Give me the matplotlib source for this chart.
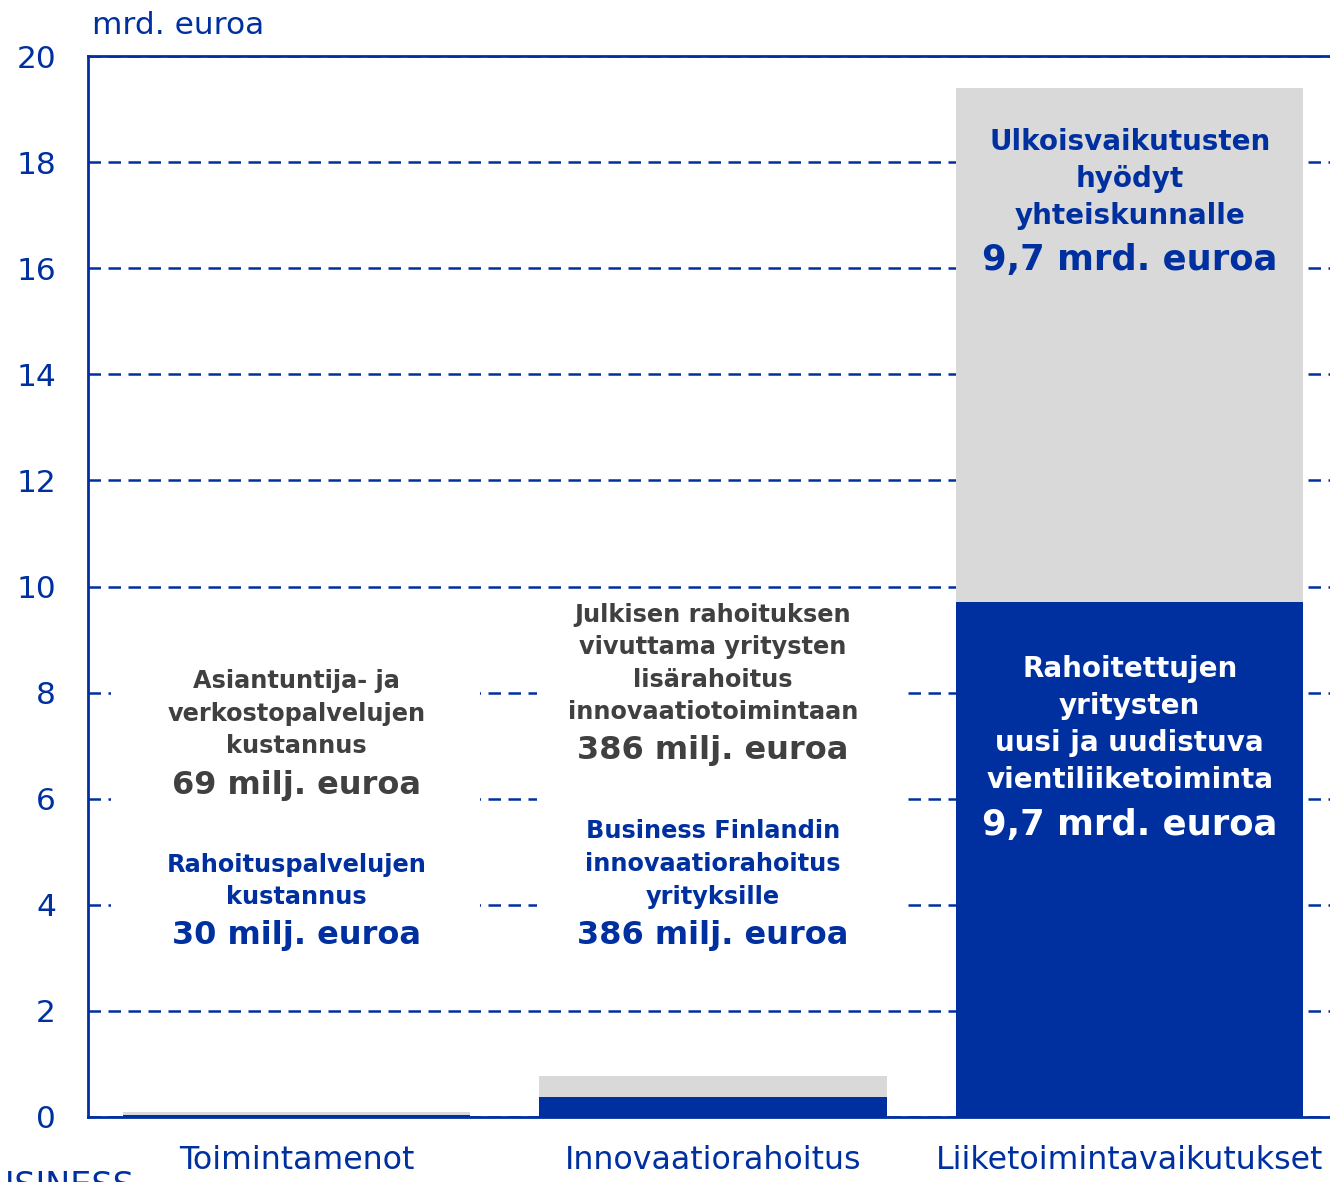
import matplotlib
matplotlib.use('Agg')
import matplotlib.pyplot as plt
from matplotlib.patches import Rectangle

BLUE = '#0030A0'
GRAY = '#D9D9D9'
DARK = '#404040'

categories  = ['Toimintamenot', 'Innovaatiorahoitus', 'Liiketoimintavaikutukset']
blue_values = [0.030, 0.386, 9.7]
gray_values = [0.069, 0.386, 9.7]
y_ticks     = [0, 2, 4, 6, 8, 10, 12, 14, 16, 18, 20]

plt.rcParams['font.family'] = 'DejaVu Sans'

fig = plt.figure(figsize=(13.3, 11.82), dpi=100)
ax = fig.add_axes([88/1330, 65/1182, 1250/1330, 1061/1182])

x = range(len(categories))
ax.bar(x, blue_values, width=0.833, color=BLUE, zorder=3)
ax.bar(x, gray_values, width=0.833, bottom=blue_values, color=GRAY, zorder=3)

ax.set_xlim(-0.5, 2.5)
ax.set_ylim(0, 20)
ax.set_yticks(y_ticks)
ax.set_xticks(list(x))
ax.set_xticklabels(categories)
ax.tick_params(axis='y', length=0, pad=23, labelsize=22.5, labelcolor=BLUE)
ax.tick_params(axis='x', length=0, pad=20, labelsize=22.8, labelcolor=BLUE)

ax.grid(axis='y', color=BLUE, linestyle=(0, (5, 3)), linewidth=1.8, zorder=1)
for s in ['left', 'bottom', 'top', 'right']:
    ax.spines[s].set_color(BLUE)
    ax.spines[s].set_linewidth(2)
    ax.spines[s].set_zorder(4)

# white panels behind the annotation texts
for left in [-0.445, 0.578]:
    ax.add_patch(Rectangle((left, 3.0), 0.885, 6.0, facecolor='white',
                           edgecolor='none', zorder=2))

small = 17.3
big = 23
ls = 1.45
# column 1
ax.text(0, 7.60, 'Asiantuntija- ja\nverkostopalvelujen\nkustannus', ha='center', va='center',
        fontsize=small, fontweight='bold', color=DARK, linespacing=ls, zorder=5)
ax.text(0, 6.24, '69 milj. euroa', ha='center', va='center',
        fontsize=big, fontweight='bold', color=DARK, zorder=5)
ax.text(0, 4.45, 'Rahoituspalvelujen\nkustannus', ha='center', va='center',
        fontsize=small, fontweight='bold', color=BLUE, linespacing=ls, zorder=5)
ax.text(0, 3.43, '30 milj. euroa', ha='center', va='center',
        fontsize=big, fontweight='bold', color=BLUE, zorder=5)
# column 2
ax.text(1, 8.55, 'Julkisen rahoituksen\nvivuttama yritysten\nlisärahoitus\ninnovaatiotoimintaan',
        ha='center', va='center', fontsize=small, fontweight='bold', color=DARK,
        linespacing=ls, zorder=5)
ax.text(1, 6.90, '386 milj. euroa', ha='center', va='center',
        fontsize=big, fontweight='bold', color=DARK, zorder=5)
ax.text(1, 4.77, 'Business Finlandin\ninnovaatiorahoitus\nyrityksille', ha='center', va='center',
        fontsize=small, fontweight='bold', color=BLUE, linespacing=ls, zorder=5)
ax.text(1, 3.43, '386 milj. euroa', ha='center', va='center',
        fontsize=big, fontweight='bold', color=BLUE, zorder=5)
# column 3
ax.text(2, 17.68, 'Ulkoisvaikutusten\nhyödyt\nyhteiskunnalle', ha='center', va='center',
        fontsize=20, fontweight='bold', color=BLUE, linespacing=1.42, zorder=5)
ax.text(2, 16.15, '9,7 mrd. euroa', ha='center', va='center',
        fontsize=25.5, fontweight='bold', color=BLUE, zorder=5)
ax.text(2, 7.40, 'Rahoitettujen\nyritysten\nuusi ja uudistuva\nvientiliiketoiminta',
        ha='center', va='center', fontsize=20, fontweight='bold', color='white',
        linespacing=1.42, zorder=5)
ax.text(2, 5.50, '9,7 mrd. euroa', ha='center', va='center',
        fontsize=25.5, fontweight='bold', color='white', zorder=5)

fig.text(92/1330, 1 - 25/1182, 'mrd. euroa', ha='left', va='center', fontsize=22.5, color=BLUE)
fig.text(135/1330, 1 - 1170/1182, 'BUSINESS', ha='right', va='top', fontsize=24, color=BLUE)

fig.savefig('out.png', dpi=100)
